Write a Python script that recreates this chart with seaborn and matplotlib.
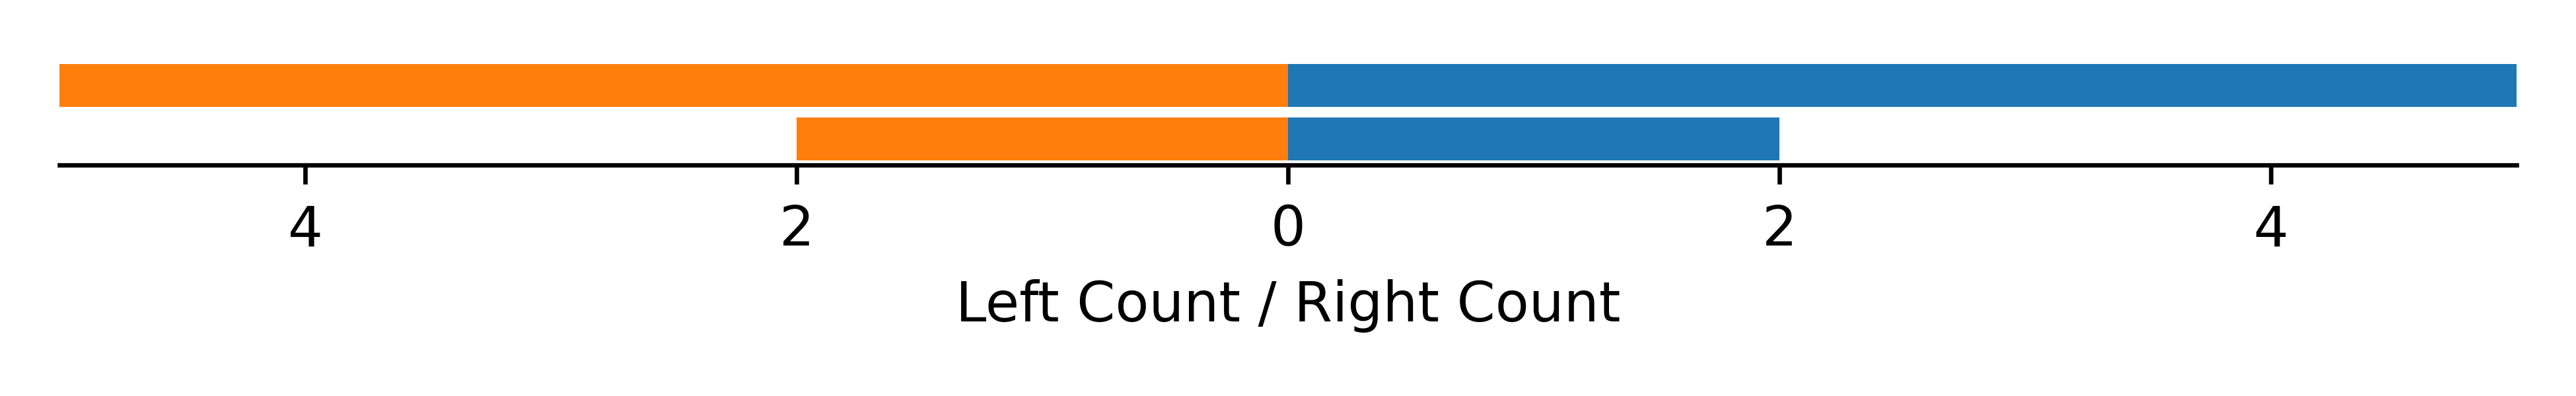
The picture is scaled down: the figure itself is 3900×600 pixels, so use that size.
import numpy as np
import pandas as pd
import matplotlib
matplotlib.use('Agg')
import matplotlib.pyplot as plt
import seaborn as sns

# 数据
categories = ['Row 1', 'Row 2']
left_counts = [5, 2]
right_counts = [5, 2]
tick_values = [-4, -2, 0, 2, 4]

df = pd.DataFrame({'category': categories,
                   'left': -np.array(left_counts),
                   'right': np.array(right_counts)})

fig = plt.figure(figsize=(6.5, 1), dpi=600)
ax = fig.add_axes([0.02308, 0.5833, 0.95384, 0.2667])

# 左侧（橙色）和右侧（蓝色）
sns.barplot(data=df, x='left', y='category', color='#ff7f0e', saturation=1,
            width=0.8, orient='h', ax=ax)
sns.barplot(data=df, x='right', y='category', color='#1f77b4', saturation=1,
            width=0.8, orient='h', ax=ax)

ax.set_xlim(-5, 5)
ax.set_ylim(1.49, -0.49)
ax.set_xticks(tick_values)
ax.set_xticklabels([str(abs(v)) for v in tick_values])
ax.tick_params(axis='y', left=False, labelleft=False)
ax.set_ylabel('')
ax.set_xlabel('Left Count / Right Count')
for side in ['left', 'right', 'top']:
    ax.spines[side].set_visible(False)

fig.savefig('out.png', dpi=600)
